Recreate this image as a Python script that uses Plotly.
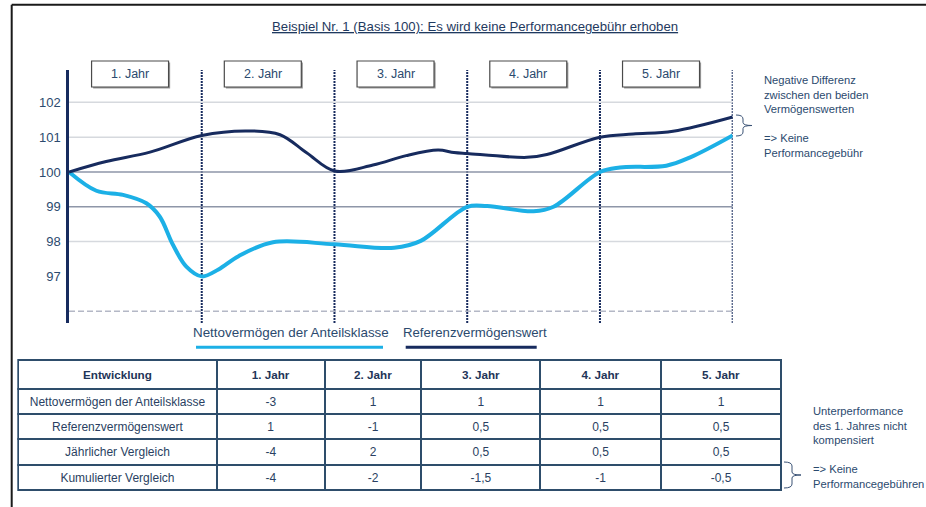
import plotly.graph_objects as go

# ---------------- data ----------------
years = ["1. Jahr", "2. Jahr", "3. Jahr", "4. Jahr", "5. Jahr"]

netto_t = [0, 0.206, 0.407, 0.583, 0.683, 0.784, 0.884, 1.0, 1.126, 1.277, 1.537, 2.0, 2.45, 2.65, 3.0, 3.15, 3.5, 3.65, 4.0, 4.15, 4.5, 4.68, 5.0]
netto_v = [100, 99.46, 99.34, 99.1, 98.72, 97.9, 97.28, 97.0, 97.2, 97.58, 97.98, 97.92, 97.82, 98.02, 99.0, 99.02, 98.87, 99.0, 100.0, 100.13, 100.18, 100.42, 101.05]

ref_t = [0, 0.28, 0.61, 1.0, 1.34, 1.59, 1.79, 2.0, 2.29, 2.54, 2.78, 2.9, 3.0, 3.45, 3.6, 4.0, 4.25, 4.55, 5.0]
ref_v = [100, 100.3, 100.57, 101.05, 101.18, 101.07, 100.55, 100.03, 100.2, 100.47, 100.63, 100.56, 100.53, 100.42, 100.5, 101.0, 101.09, 101.17, 101.58]

y_ticks = [97, 98, 99, 100, 101, 102]
grid_light = [102, 101, 98]
grid_dark = [100, 99]
grid_dashed = [96]

table_header = ["Entwicklung"] + years
row_labels = ["Nettovermögen der Anteilsklasse", "Referenzvermögenswert",
              "Jährlicher Vergleich", "Kumulierter Vergleich"]
netto_row = ["-3", "1", "1", "1", "1"]
ref_row = ["1", "-1", "0,5", "0,5", "0,5"]
jaehrlich_row = ["-4", "2", "0,5", "0,5", "0,5"]
kumuliert_row = ["-4", "-2", "-1,5", "-1", "-0,5"]

title_text = "Beispiel Nr. 1 (Basis 100): Es wird keine Performancegebühr erhoben"
note_top = ["Negative Differenz", "zwischen den beiden", "Vermögenswerten", "",
            "=> Keine", "Performancegebühr"]
note_bottom = ["Unterperformance", "des 1. Jahres nicht", "kompensiert", "",
               "=> Keine", "Performancegebühren"]
legend_netto = "Nettovermögen der Anteilsklasse"
legend_ref = "Referenzvermögenswert"

# ---------------- layout helpers ----------------
W, H = 926, 507
def X(px):
    return px / W
def Y(py):
    return 1 - py / H

NAVY = "#172b5e"
LIGHT = "#1cb0e6"
TXT = "#2b4a6e"
FONT = "Liberation Sans, Arial, sans-serif"

fig = go.Figure()

fig.add_trace(go.Scatter(x=netto_t, y=netto_v, mode="lines",
                         line=dict(color=LIGHT, width=4, shape="spline", smoothing=1.0),
                         name=legend_netto, showlegend=False, hoverinfo="skip"))
fig.add_trace(go.Scatter(x=ref_t, y=ref_v, mode="lines",
                         line=dict(color=NAVY, width=3, shape="spline", smoothing=1.0),
                         name=legend_ref, showlegend=False, hoverinfo="skip"))

# table
cols = [row_labels] + [[netto_row[i], ref_row[i], jaehrlich_row[i], kumuliert_row[i]] for i in range(5)]
fig.add_trace(go.Table(
    domain=dict(x=[X(18.3), X(781.7)], y=[Y(492), Y(360)]),
    columnwidth=[198.4, 108.3, 96.7, 119, 120.3, 120.7],
    header=dict(values=["<b>%s</b>" % h for h in table_header],
                fill_color="white", line=dict(color="#2e4d6b", width=2),
                font=dict(family=FONT, size=11.7, color="#1f3558"),
                align="center", height=25.2),
    cells=dict(values=cols, fill_color="white", line=dict(color="#2e4d6b", width=2),
               font=dict(family=FONT, size=12, color="#2a3f62"),
               align="center", height=25.2),
))

shapes = []
# gridlines
for g in grid_light:
    shapes.append(dict(type="line", xref="x", yref="y", x0=0, x1=5, y0=g, y1=g,
                       line=dict(color="#d6d9de", width=1.5), layer="below"))
for g in grid_dark:
    shapes.append(dict(type="line", xref="x", yref="y", x0=0, x1=5, y0=g, y1=g,
                       line=dict(color="#8e96a8", width=1.5), layer="below"))
for g in grid_dashed:
    shapes.append(dict(type="line", xref="x", yref="y", x0=0, x1=5, y0=g, y1=g,
                       line=dict(color="#b4b8c6", width=1.5, dash="6px,3px"), layer="below"))
# dotted year lines
for i in range(1, 6):
    shapes.append(dict(type="line", xref="x", yref="paper", x0=i, x1=i, y0=Y(323), y1=Y(70),
                       line=dict(color=NAVY, width=2, dash="2px,1px"), layer="below"))
# year boxes
annotations = []
for i, yl in enumerate(years):
    shapes.append(dict(type="rect", xref="x", yref="paper", x0=i + 0.17 + 0.012, x1=i + 0.75 + 0.012,
                       y0=Y(88.5), y1=Y(62.5), line=dict(width=0), fillcolor="#9a9a9a"))
    shapes.append(dict(type="rect", xref="x", yref="paper", x0=i + 0.17, x1=i + 0.75,
                       y0=Y(87), y1=Y(61), line=dict(color="#4a4a4a", width=1.2), fillcolor="white"))
    annotations.append(dict(text=yl, xref="x", yref="paper", x=i + 0.46, y=Y(74),
                            showarrow=False, xanchor="center", yanchor="middle",
                            font=dict(family=FONT, size=12.5, color=TXT)))

# legend lines
shapes.append(dict(type="line", xref="paper", yref="paper", x0=X(196), x1=X(383), y0=Y(347.3), y1=Y(347.3),
                   line=dict(color=LIGHT, width=3)))
shapes.append(dict(type="line", xref="paper", yref="paper", x0=X(405.7), x1=X(536.7), y0=Y(347.3), y1=Y(347.3),
                   line=dict(color=NAVY, width=3)))

# outer frame (top and left)
shapes.append(dict(type="line", xref="paper", yref="paper", x0=X(11.7), x1=1, y0=Y(4.7), y1=Y(4.7),
                   line=dict(color="#1a1a1a", width=2)))
shapes.append(dict(type="line", xref="paper", yref="paper", x0=X(11.7), x1=X(11.7), y0=Y(4.7), y1=0,
                   line=dict(color="#1a1a1a", width=2)))

# braces
def brace(x0, yT, yB, bulge, tip):
    yM = (yT + yB) / 2
    pts = [
        "M %f,%f" % (X(x0), Y(yT)),
        "Q %f,%f %f,%f" % (X(bulge), Y(yT), X(bulge), Y(yT + 4)),
        "L %f,%f" % (X(bulge), Y(yM - 3)),
        "Q %f,%f %f,%f" % (X(bulge), Y(yM), X(tip), Y(yM)),
        "Q %f,%f %f,%f" % (X(bulge), Y(yM), X(bulge), Y(yM + 3)),
        "L %f,%f" % (X(bulge), Y(yB - 4)),
        "Q %f,%f %f,%f" % (X(bulge), Y(yB), X(x0), Y(yB)),
    ]
    return dict(type="path", xref="paper", yref="paper", path=" ".join(pts),
                line=dict(color="#3a5275", width=1))
shapes.append(brace(736, 115, 136, 743, 752))
shapes.append(brace(784, 462, 488, 792, 801))

# title
annotations.append(dict(text="<u>%s</u>" % title_text, xref="paper", yref="paper", x=X(474.5), y=Y(26),
                        showarrow=False, xanchor="center", yanchor="middle",
                        font=dict(family=FONT, size=13.2, color="#1f3a60")))
# side notes
annotations.append(dict(text="<br>".join(note_top), xref="paper", yref="paper", x=X(762), y=Y(116.5),
                        showarrow=False, xanchor="left", yanchor="middle", align="left",
                        font=dict(family=FONT, size=11.2, color=TXT)))
annotations.append(dict(text="<br>".join(note_bottom), xref="paper", yref="paper", x=X(811), y=Y(447.5),
                        showarrow=False, xanchor="left", yanchor="middle", align="left",
                        font=dict(family=FONT, size=11.2, color=TXT)))
# legend texts
annotations.append(dict(text=legend_netto, xref="paper", yref="paper", x=X(290.5), y=Y(332),
                        showarrow=False, xanchor="center", yanchor="middle",
                        font=dict(family=FONT, size=13.4, color=TXT)))
annotations.append(dict(text=legend_ref, xref="paper", yref="paper", x=X(474.7), y=Y(332),
                        showarrow=False, xanchor="center", yanchor="middle",
                        font=dict(family=FONT, size=13.2, color=TXT)))

fig.update_layout(
    width=W, height=H,
    margin=dict(l=0, r=0, t=0, b=0, pad=0),
    paper_bgcolor="white", plot_bgcolor="white",
    showlegend=False,
    xaxis=dict(domain=[X(69), X(732.7)], range=[0, 5], visible=False, fixedrange=True),
    yaxis=dict(domain=[Y(323), Y(70)], range=[95.66, 102.93], tickvals=y_ticks,
               showgrid=False, zeroline=False, showline=True, linecolor=NAVY, linewidth=2.5,
               ticks="", ticklabelstandoff=3,
               tickfont=dict(family=FONT, size=13, color=TXT), fixedrange=True),
    shapes=shapes, annotations=annotations,
    font=dict(family=FONT),
)

fig.write_html("out.html", config={"displayModeBar": False},
               post_script="document.body.style.margin='0px';document.body.style.overflow='hidden';")
